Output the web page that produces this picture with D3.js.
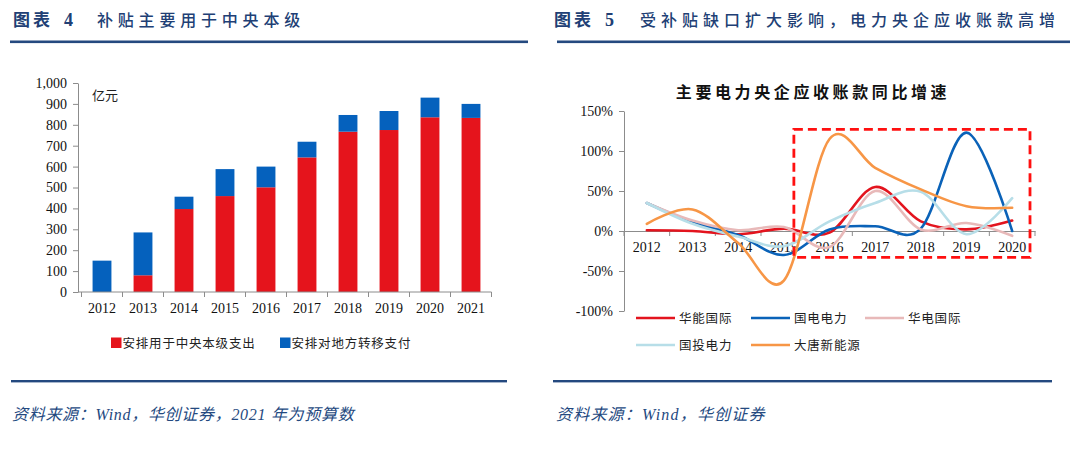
<!DOCTYPE html>
<html>
<head>
<meta charset="utf-8">
<script src="https://cdn.jsdelivr.net/npm/d3@7"></script>
<style>
  html, body { margin: 0; padding: 0; background: #fff; }
  svg { display: block; }
  .num { font-family: 'Liberation Serif', 'Noto Sans CJK SC', serif; font-size: 14px; fill: #111; }
  .cjk { font-family: 'Noto Sans CJK SC', sans-serif; }
  .axis path, .axis line { stroke: #8c8c8c; stroke-width: 1; }
</style>
</head>
<body>
<svg id="chart" width="1080" height="455"></svg>
<script>
// ---------------- left: subsidy split (亿元) ----------------
const barYears = ['2012', '2013', '2014', '2015', '2016', '2017', '2018', '2019', '2020', '2021'];
const centralSpend = [0, 80, 397, 459, 501, 644, 767, 775, 836, 833];
const localTransfer = [150, 205, 59, 129, 99, 75, 80, 91, 94, 67];
const barTicks = [0, 100, 200, 300, 400, 500, 600, 700, 800, 900, 1000];
const barSeries = ['安排用于中央本级支出', '安排对地方转移支付'];
const barColors = ['#e5141c', '#0561bd'];

// ---------------- right: receivables growth (%) ----------------
const lineYears = ['2012', '2013', '2014', '2015', '2016', '2017', '2018', '2019', '2020'];
const huaneng   = [1, 0, -4, 3, -2, 55, 12, 2, 13];
const guodian   = [35, 11, -5, -30, 2, 6, 3, 123, 0];
const huadian   = [35, 13, 1, 5, -20, 50, 2, 10, -6];
const guotou    = [35, 9, -7, -19, 12, 35, 49, -4, 41];
const datang    = [9, 27, -15, -62, 115, 79, 52, 31, 29];
const lineNames = ['华能国际', '国电电力', '华电国际', '国投电力', '大唐新能源'];
const lineColors = ['#e3141e', '#0a62b8', '#e8b9b9', '#b7dee8', '#f79646'];
const lineTicks = [-100, -50, 0, 50, 100, 150];

const svg = d3.select('#chart');
svg.append('rect').attr('width', 1080).attr('height', 455).attr('fill', '#fff');

const navy = '#213f75';
const ruleColor = '#24497f';

// headers + rules + sources
function header(x0, num, titleX, title, spacing) {
  svg.append('text').attr('x', x0).attr('y', 26)
    .attr('fill', navy).attr('font-size', 17).attr('font-weight', 700)
    .attr('font-family', "'Noto Sans CJK SC', sans-serif")
    .attr('letter-spacing', 3)
    .text('图表');
  svg.append('text').attr('x', x0 + 51).attr('y', 26)
    .attr('fill', navy).attr('font-size', 18).attr('font-weight', 700)
    .attr('font-family', "'Liberation Serif', serif")
    .text(num);
  svg.append('text').attr('x', titleX).attr('y', 26)
    .attr('fill', navy).attr('font-size', 16).attr('font-weight', 500)
    .attr('font-family', "'Noto Sans CJK SC', sans-serif")
    .attr('letter-spacing', spacing)
    .text(title);
}
header(13, '4', 97, '补贴主要用于中央本级', 4.8);
header(554, '5', 640, '受补贴缺口扩大影响，电力央企应收账款高增', 5);

svg.append('rect').attr('x', 10).attr('y', 40.5).attr('width', 518).attr('height', 2.6).attr('fill', ruleColor);
svg.append('rect').attr('x', 557).attr('y', 40.5).attr('width', 513).attr('height', 2.6).attr('fill', ruleColor);
svg.append('rect').attr('x', 11).attr('y', 380).attr('width', 496).attr('height', 2.4).attr('fill', ruleColor);
svg.append('rect').attr('x', 553).attr('y', 380).attr('width', 499).attr('height', 2.4).attr('fill', ruleColor);

function source(x, txt, spacing) {
  svg.append('text').attr('x', x).attr('y', 420)
    .attr('fill', '#24497f').attr('font-size', 16).attr('font-style', 'italic')
    .attr('font-family', "'Liberation Serif', 'Noto Sans CJK SC', serif")
    .attr('letter-spacing', spacing)
    .text(txt);
}
source(12, '资料来源：Wind，华创证券，2021 年为预算数', 0.7);
source(556, '资料来源：Wind，华创证券', 1.2);

// ---------------- left chart ----------------
const xb = d3.scaleBand().domain(barYears).range([81.5, 491.5]).paddingInner(0.54).paddingOuter(0.27);
const yb = d3.scaleLinear().domain([0, 1000]).range([292, 83]);

const stacked = d3.stack().keys([0, 1])(barYears.map((yr, i) => ({ yr, 0: centralSpend[i], 1: localTransfer[i] })));

const gl = svg.append('g');
stacked.forEach((layer, k) => {
  gl.append('g').selectAll('rect').data(layer).join('rect')
    .attr('x', d => xb(d.data.yr))
    .attr('width', xb.bandwidth())
    .attr('y', d => yb(d[1]))
    .attr('height', d => yb(d[0]) - yb(d[1]))
    .attr('fill', barColors[k]);
});

const yAxL = gl.append('g').attr('class', 'axis').attr('transform', 'translate(78,0)')
  .call(d3.axisLeft(yb).tickValues(barTicks).tickSize(5).tickSizeOuter(0).tickPadding(6).tickFormat(d3.format(',')));
yAxL.selectAll('text').attr('class', 'num').attr('font-size', null).attr('font-family', null);

// category axis: labels from band centres, ticks at band edges
const xAxL = gl.append('g').attr('class', 'axis').attr('transform', 'translate(0,292)')
  .call(d3.axisBottom(xb).tickSize(0).tickPadding(11));
xAxL.select('.domain').remove();
xAxL.selectAll('text').attr('class', 'num').attr('font-size', null).attr('font-family', null);
gl.append('line').attr('x1', 78).attr('x2', xb.range()[1]).attr('y1', 292).attr('y2', 292)
  .attr('stroke', '#8c8c8c');
const stepL = xb.step();
gl.append('g').selectAll('line').data(d3.range(barYears.length + 1)).join('line')
  .attr('x1', i => xb.range()[0] + i * stepL).attr('x2', i => xb.range()[0] + i * stepL)
  .attr('y1', 292).attr('y2', 297).attr('stroke', '#8c8c8c');

gl.append('text').attr('x', 92).attr('y', 100).attr('class', 'cjk')
  .attr('font-size', 13).attr('fill', '#222').text('亿元');

// legend
const legL = gl.append('g');
[111, 280].forEach((lx, k) => {
  legL.append('rect').attr('x', lx).attr('y', 337.5).attr('width', 10.5).attr('height', 10.5).attr('fill', barColors[k]);
  legL.append('text').attr('x', lx + 11.5).attr('y', 347.5).attr('class', 'cjk')
    .attr('font-size', 12.5).attr('letter-spacing', 0.8).attr('fill', '#222').text(barSeries[k]);
});

// ---------------- right chart ----------------
const xl = d3.scaleBand().domain(lineYears).range([624, 1035]);
const yl = d3.scaleLinear().domain([-100, 150]).range([311, 111]);

const gr = svg.append('g');
gr.append('text').attr('x', 813).attr('y', 98).attr('text-anchor', 'middle').attr('class', 'cjk')
  .attr('font-size', 16).attr('font-weight', 700).attr('letter-spacing', 3.6).attr('fill', '#111')
  .text('主要电力央企应收账款同比增速');

const yAxR = gr.append('g').attr('class', 'axis').attr('transform', 'translate(624,0)')
  .call(d3.axisLeft(yl).tickValues(lineTicks).tickSize(5).tickSizeOuter(0).tickPadding(6)
    .tickFormat(d => (d < 0 ? '-' : '') + Math.abs(d) + '%'));
yAxR.selectAll('text').attr('class', 'num').attr('font-size', null).attr('font-family', null);

const xAxR = gr.append('g').attr('class', 'axis').attr('transform', `translate(0,${yl(0)})`)
  .call(d3.axisBottom(xl).tickSize(0).tickPadding(11));
xAxR.select('.domain').attr('stroke', '#8c8c8c');
xAxR.selectAll('text').attr('class', 'num').attr('font-size', null).attr('font-family', null);
gr.append('g').selectAll('line').data(d3.range(lineYears.length + 1)).join('line')
  .attr('x1', i => xl.range()[0] + i * xl.step()).attr('x2', i => xl.range()[0] + i * xl.step())
  .attr('y1', yl(0)).attr('y2', yl(0) + 5).attr('stroke', '#8c8c8c');

const seriesVals = [huaneng, guodian, huadian, guotou, datang];
const line = d3.line()
  .x((d, i) => xl(lineYears[i]) + xl.bandwidth() / 2)
  .y(d => yl(d))
  .curve(d3.curveCatmullRom.alpha(0));

seriesVals.forEach((vals, k) => {
  gr.append('path').datum(vals).attr('d', line)
    .attr('fill', 'none').attr('stroke', lineColors[k]).attr('stroke-width', 2.6)
    .attr('stroke-linecap', 'round').attr('stroke-linejoin', 'round');
});

// highlight box over 2016-2020
const bx0 = xl('2015') + xl.bandwidth() * 0.72;
const bx1 = xl.range()[1] - 5;
gr.append('rect').attr('x', bx0).attr('y', yl(127)).attr('width', bx1 - bx0).attr('height', yl(-33) - yl(127))
  .attr('fill', 'none').attr('stroke', '#ff1010').attr('stroke-width', 2.8).attr('stroke-dasharray', '9,5');

// legend
const legPos = [[636, 318], [751, 318], [865, 318], [636, 345], [751, 345]];
lineNames.forEach((name, k) => {
  const [lx, ly] = legPos[k];
  gr.append('line').attr('x1', lx).attr('x2', lx + 39).attr('y1', ly).attr('y2', ly)
    .attr('stroke', lineColors[k]).attr('stroke-width', 2.6);
  gr.append('text').attr('x', lx + 43).attr('y', ly + 4.5).attr('class', 'cjk')
    .attr('font-size', 12.5).attr('letter-spacing', 0.8).attr('fill', '#222').text(name);
});
</script>
</body>
</html>
